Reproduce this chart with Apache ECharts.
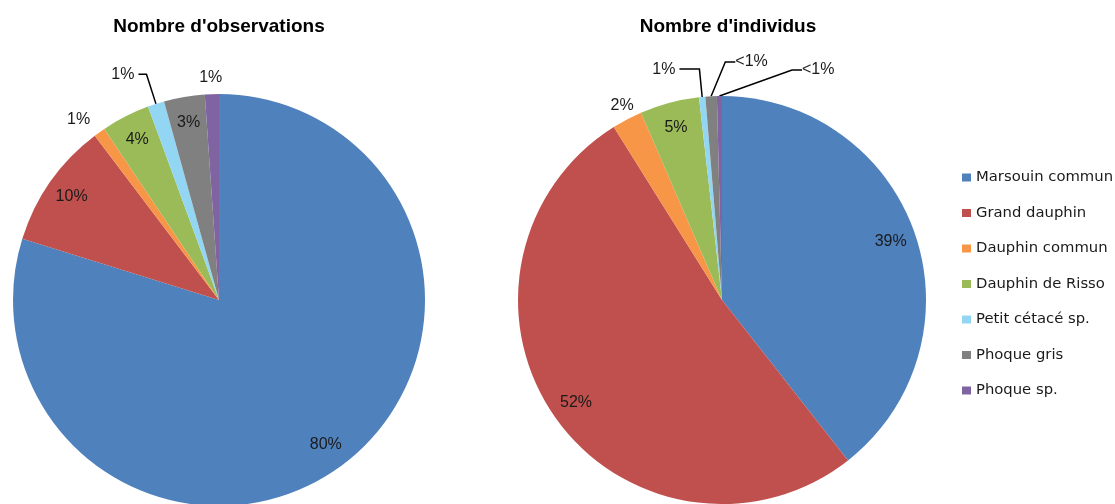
<!DOCTYPE html>
<html>
<head>
<meta charset="utf-8">
<script src="https://cdn.jsdelivr.net/npm/echarts@6/dist/echarts.min.js"></script>
<style>
  html, body { margin: 0; padding: 0; background: #fff; }
  #chart { width: 1115px; height: 504px; }
</style>
</head>
<body>
<div id="chart"></div>
<script>
// data (share in %)
const species = ['Marsouin commun', 'Grand dauphin', 'Dauphin commun', 'Dauphin de Risso', 'Petit cétacé sp.', 'Phoque gris', 'Phoque sp.'];
const observations = [79.8, 9.9, 0.9, 3.8, 1.3, 3.2, 1.1];
const individus = [39.4, 51.7, 2.4, 4.7, 0.5, 0.9, 0.4];
const obsLabels = ['80%', '10%', '1%', '4%', '1%', '3%', '1%'];
const indLabels = ['39%', '52%', '2%', '5%', '1%', '<1%', '<1%'];

const colors = ['#4F81BD', '#C0504D', '#F79646', '#9BBB59', '#93D6F4', '#808080', '#8064A2'];
const labelFont = 'Liberation Sans';
const legendFont = 'DejaVu Sans';

// label placement per slice: inside / outside (with or without leader line)
const obsPlace = [
    { pos: 'inside' }, { pos: 'inside' },
    { pos: 'outside', line: false, len: 16, len2: 0, dist: 0 },
    { pos: 'inside' },
    { pos: 'outside', line: true, len: 31, len2: 8, dist: 4 },
    { pos: 'inside' },
    { pos: 'outside', line: false, len: 17, len2: 0, dist: 0 }
];
const indPlace = [
    { pos: 'inside' }, { pos: 'inside' },
    { pos: 'outside', line: false, len: 16, len2: 0, dist: 0 },
    { pos: 'inside' },
    { pos: 'outside', line: true, len: 28, len2: 20, dist: 4 },
    { pos: 'outside', line: true, len: 28, len2: 10, dist: 3 },
    { pos: 'outside', line: true, len: 28, len2: 10, dist: 3 }
];

const R1 = 206, C1 = [219, 300];
const R2 = 204, C2 = [722, 300];

function fillSeries(values, center, r) {
    return {
        type: 'pie',
        center: center,
        radius: [0, r],
        startAngle: 90,
        clockwise: true,
        silent: true,
        label: { show: false },
        labelLine: { show: false },
        emphasis: { disabled: true },
        data: species.map((name, i) => ({ name: name, value: values[i], itemStyle: { color: colors[i] } }))
    };
}

// transparent copy that only carries the percentage labels
function labelSeries(values, texts, place, center, r, layout) {
    return {
        type: 'pie',
        center: center,
        radius: [r * 0.72, r],
        startAngle: 90,
        clockwise: true,
        silent: true,
        avoidLabelOverlap: false,
        emphasis: { disabled: true },
        itemStyle: { color: 'rgba(0,0,0,0)' },
        labelLayout: layout,
        data: species.map((name, i) => {
            const p = place[i];
            const item = {
                name: name,
                value: values[i],
                label: {
                    show: true,
                    position: p.pos,
                    formatter: texts[i],
                    fontFamily: labelFont,
                    fontSize: 16,
                    color: '#1a1a1a'
                },
                labelLine: { show: false }
            };
            if (p.pos === 'outside') {
                item.label.distanceToLabelLine = p.dist;
                item.labelLine = {
                    show: p.line,
                    length: p.len,
                    length2: p.len2,
                    lineStyle: { color: '#000', width: 1.5 }
                };
            }
            return item;
        })
    };
}

const chart = echarts.init(document.getElementById('chart'), null, { renderer: 'canvas' });
chart.setOption({
    animation: false,
    color: colors,
    title: [
        {
            text: "Nombre d'observations",
            left: 214, top: 12, textAlign: 'center',
            textStyle: { fontFamily: 'Liberation Sans', fontWeight: 'bold', fontSize: 19, color: '#000' }
        },
        {
            text: "Nombre d'individus",
            left: 723, top: 12, textAlign: 'center',
            textStyle: { fontFamily: 'Liberation Sans', fontWeight: 'bold', fontSize: 19, color: '#000' }
        }
    ],
    legend: {
        orient: 'vertical',
        left: 962,
        top: 170,
        padding: 0,
        icon: 'rect',
        itemWidth: 9,
        itemHeight: 8,
        itemGap: 20.5,
        selectedMode: false,
        data: species,
        textStyle: { fontFamily: legendFont, fontSize: 14.8, color: '#1a1a1a' }
    },
    series: [
        fillSeries(observations, C1, R1),
        fillSeries(individus, C2, R2),
        labelSeries(observations, obsLabels, obsPlace, C1, R1, function (params) {
            if (params.dataIndex === 6) {
                return { x: params.labelRect.x + 11, y: params.labelRect.y, align: 'left', verticalAlign: 'top' };
            }
        }),
        labelSeries(individus, indLabels, indPlace, C2, R2, function (params) {
            if (params.dataIndex === 2) {
                return { x: params.labelRect.x + 14, y: params.labelRect.y, align: 'left', verticalAlign: 'top' };
            }
            // the two tiny seal slices get their labels pushed to the right, Excel style
            if (params.dataIndex === 5) {
                return { x: params.rect.x + params.rect.width + 17, y: params.rect.y - 34, align: 'left', verticalAlign: 'middle' };
            }
            if (params.dataIndex === 6) {
                return { x: params.rect.x + params.rect.width + 80, y: params.rect.y - 26, align: 'left', verticalAlign: 'middle' };
            }
        })
    ]
});
</script>
</body>
</html>
